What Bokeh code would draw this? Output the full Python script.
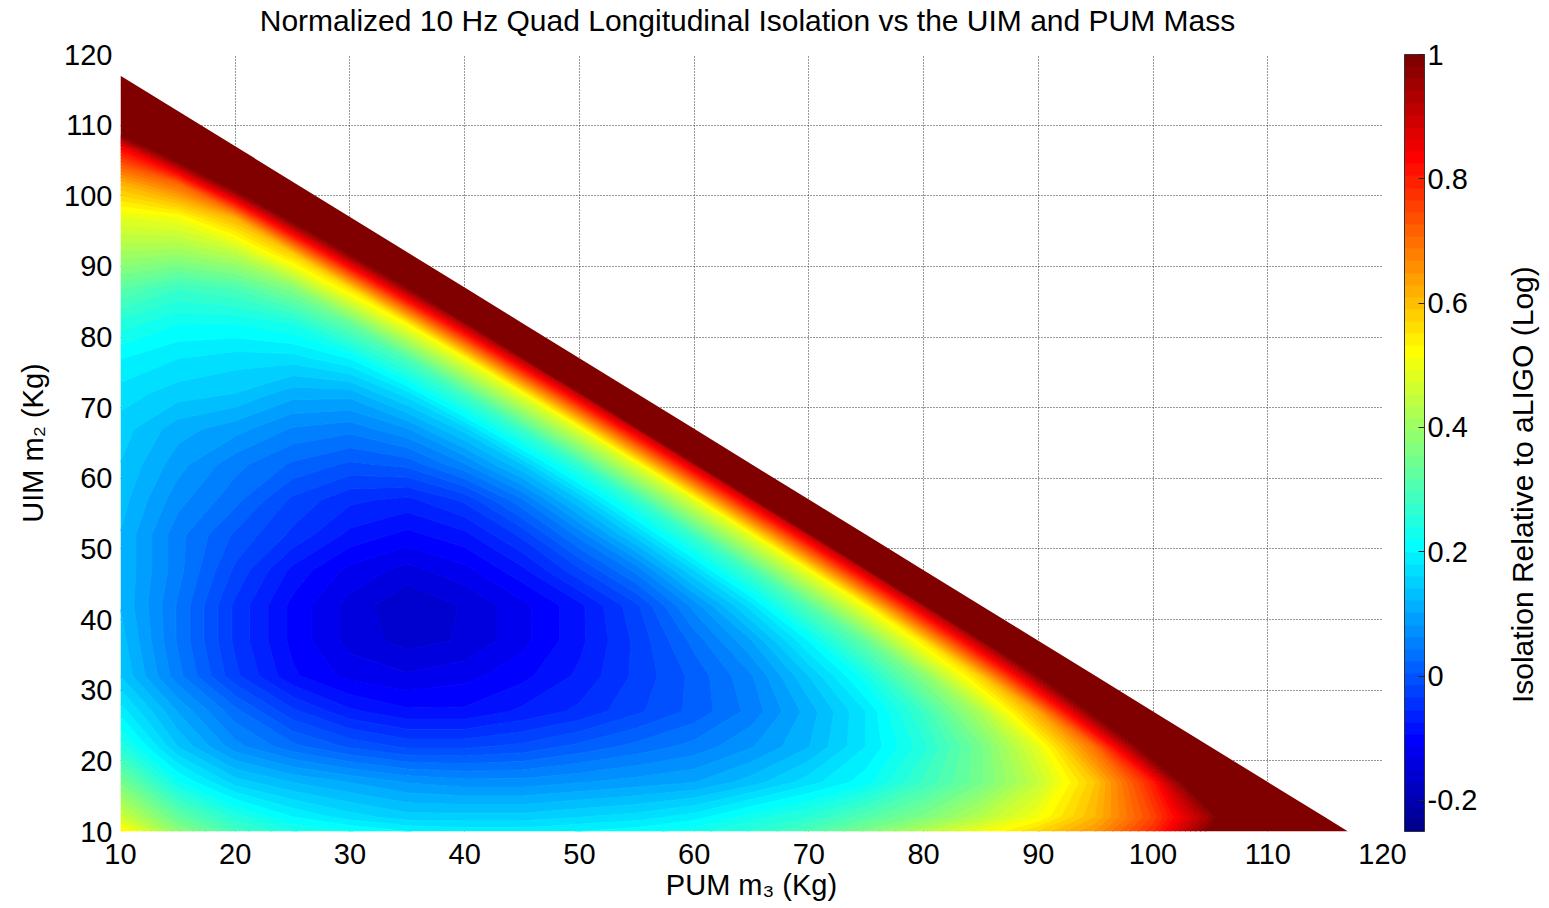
import numpy as np
from bokeh.plotting import figure
from bokeh.layouts import row, column
from bokeh.models import Range1d, FixedTicker, ColorBar, LinearColorMapper, PrintfTickFormatter
from bokeh.core.properties import value
from bokeh.embed import file_html
from bokeh.resources import INLINE

# ---- data: normalised isolation (log) on a grid of PUM mass (x) and UIM mass (y), kg ----
pum = [10, 15, 20, 25, 30, 35, 40, 45, 50, 55, 60, 65, 70, 75, 80, 85, 90, 95, 100, 105, 110, 115, 117]
uim = [10, 12, 17, 22, 27, 32, 37, 42, 47, 52, 57, 62, 67, 72, 77, 82, 87, 92, 97, 102, 107, 112, 117]
mass_limit = 127  # PUM + UIM upper bound (white region beyond)

uim_10 = [0.54, 0.38, 0.29, 0.24, 0.22, 0.20, 0.19, 0.19, 0.20, 0.21, 0.23, 0.26, 0.30, 0.36, 0.43, 0.50, 0.57, 0.65, 0.78, 1.00, 1.23, 1.91, 2.67]
uim_12 = [0.46, 0.33, 0.25, 0.20, 0.17, 0.15, 0.15, 0.15, 0.16, 0.17, 0.19, 0.23, 0.26, 0.31, 0.36, 0.43, 0.51, 0.61, 0.75, 0.95, 1.34, 2.59]
uim_17 = [0.35, 0.22, 0.15, 0.12, 0.10, 0.08, 0.07, 0.07, 0.08, 0.09, 0.10, 0.13, 0.17, 0.21, 0.28, 0.35, 0.45, 0.59, 0.80, 1.19, 2.46]
uim_22 = [0.25, 0.14, 0.07, 0.03, 0.00, -0.02, -0.02, -0.01, 0.01, 0.03, 0.05, 0.08, 0.12, 0.18, 0.25, 0.35, 0.49, 0.70, 1.09, 2.38]
uim_27 = [0.19, 0.10, 0.03, -0.03, -0.07, -0.09, -0.09, -0.07, -0.05, -0.02, 0.01, 0.05, 0.11, 0.18, 0.28, 0.42, 0.63, 1.03, 2.33]
uim_32 = [0.14, 0.05, -0.03, -0.09, -0.12, -0.13, -0.12, -0.10, -0.07, -0.03, 0.01, 0.06, 0.14, 0.23, 0.37, 0.58, 0.98, 2.31]
uim_37 = [0.13, 0.04, -0.04, -0.10, -0.14, -0.16, -0.15, -0.12, -0.08, -0.03, 0.03, 0.10, 0.20, 0.33, 0.55, 0.95, 2.29]
uim_42 = [0.12, 0.04, -0.04, -0.10, -0.14, -0.17, -0.15, -0.12, -0.08, -0.02, 0.07, 0.17, 0.31, 0.52, 0.93, 2.29]
uim_47 = [0.12, 0.05, -0.02, -0.08, -0.12, -0.14, -0.12, -0.08, -0.02, 0.05, 0.16, 0.29, 0.51, 0.92, 2.29]
uim_52 = [0.12, 0.05, 0.00, -0.04, -0.08, -0.10, -0.08, -0.03, 0.05, 0.15, 0.28, 0.50, 0.91, 2.30]
uim_57 = [0.13, 0.07, 0.03, -0.02, -0.05, -0.06, -0.03, 0.04, 0.14, 0.27, 0.49, 0.91, 2.31]
uim_62 = [0.14, 0.09, 0.05, 0.02, 0.00, 0.01, 0.06, 0.14, 0.27, 0.49, 0.91, 2.32]
uim_67 = [0.15, 0.11, 0.09, 0.06, 0.05, 0.08, 0.15, 0.28, 0.49, 0.91, 2.34]
uim_72 = [0.17, 0.15, 0.14, 0.11, 0.11, 0.17, 0.29, 0.50, 0.92, 2.37]
uim_77 = [0.20, 0.18, 0.17, 0.17, 0.20, 0.30, 0.51, 0.94, 2.39]
uim_82 = [0.25, 0.22, 0.22, 0.24, 0.33, 0.53, 0.95, 2.42]
uim_87 = [0.32, 0.28, 0.30, 0.37, 0.56, 0.98, 2.46]
uim_92 = [0.41, 0.40, 0.44, 0.59, 1.01, 2.50]
uim_97 = [0.49, 0.51, 0.62, 1.05, 2.54]
uim_102 = [0.62, 0.72, 1.10, 2.60]
uim_107 = [0.84, 1.18, 2.67]
uim_112 = [1.31, 2.77]
uim_117 = [2.91]

x_ticks = [10, 20, 30, 40, 50, 60, 70, 80, 90, 100, 110, 120]
y_ticks = [10, 20, 30, 40, 50, 60, 70, 80, 90, 100, 110, 120]
cbar_ticks = [-0.2, 0, 0.2, 0.4, 0.6, 0.8, 1]
cmin, cmax = -0.25, 1.0

title_text = "Normalized 10 Hz Quad Longitudinal Isolation vs the UIM and PUM Mass"
cbar_title = "Isolation Relative to aLIGO (Log)"

rows = [uim_10, uim_12, uim_17, uim_22, uim_27, uim_32, uim_37, uim_42, uim_47, uim_52, uim_57, uim_62,
        uim_67, uim_72, uim_77, uim_82, uim_87, uim_92, uim_97, uim_102, uim_107, uim_112, uim_117]
Z = np.full((len(uim), len(pum)), np.nan)
for j, r in enumerate(rows):
    Z[j, :len(r)] = r
X, Y = np.meshgrid(np.array(pum, float), np.array(uim, float))
Z[X + Y > mass_limit + 1e-9] = np.nan

# ---- MATLAB jet(64) colormap ----
m, n = 64, 16
u = np.concatenate([np.arange(1, n + 1) / n, np.ones(n - 1), np.arange(n, 0, -1) / n])
g = 8 + np.arange(1, len(u) + 1)
J = np.zeros((m, 3))
for k in range(len(u)):
    if g[k] + n <= m:
        J[g[k] + n - 1, 0] = u[k]
    if g[k] <= m:
        J[g[k] - 1, 1] = u[k]
    if g[k] - n >= 1:
        J[g[k] - n - 1, 2] = u[k]
jet = ["#%02x%02x%02x" % tuple(int(round(c * 255)) for c in rw) for rw in J]

levels = list(cmin + (cmax - cmin) * np.arange(64) / 64) + [100.0]
fills = list(jet)
line_cols = list(jet) + [jet[-1]]   # each level line painted with the band above it (hides seams)

FONT = "Liberation Sans"
FS = "29px"

LEFT, RIGHT, TOP, BOTTOM = 120, 118, 14, 76
FW, FH = 1262, 777
TITLE_H = 40

p = figure(output_backend="svg", toolbar_location=None, title=None,
           x_range=Range1d(10, 120), y_range=Range1d(10, 120),
           frame_width=FW, frame_height=FH,
           min_border_left=LEFT, min_border_right=RIGHT, min_border_top=TOP, min_border_bottom=BOTTOM)
p.outline_line_color = None

p.contour(X, Y, Z, levels, fill_color=fills, line_color=line_cols, line_width=1.2)

for ax, tk in ((p.xaxis[0], x_ticks), (p.yaxis[0], y_ticks)):
    ax.ticker = FixedTicker(ticks=tk)
    ax.axis_line_color = None
    ax.major_tick_line_color = None
    ax.minor_tick_line_color = None
    ax.major_tick_out = 0
    ax.major_tick_in = 0
    ax.minor_tick_out = 0
    ax.major_label_text_font = FONT
    ax.major_label_text_font_size = FS
    ax.major_label_text_color = "black"
    ax.axis_label_text_font = FONT
    ax.axis_label_text_font_size = FS
    ax.axis_label_text_font_style = "normal"
    ax.axis_label_text_color = "black"
p.xaxis.axis_label = "PUM m\u2083 (Kg)"
p.yaxis.axis_label = "UIM m\u2082 (Kg)"
p.xaxis.major_label_standoff = 12
p.yaxis.major_label_standoff = 8
p.xaxis.axis_label_standoff = 2
p.yaxis.axis_label_standoff = 12
for gr, tk in ((p.xgrid[0], x_ticks), (p.ygrid[0], y_ticks)):
    gr.ticker = FixedTicker(ticks=tk)
    gr.grid_line_color = "#333333"
    gr.grid_line_dash = "1 2"
    gr.grid_line_width = 1

mapper = LinearColorMapper(palette=jet, low=cmin, high=cmax)
cb = ColorBar(color_mapper=mapper, location=(FW + 22, 0), width=20, height=FH,
              padding=0, margin=0, ticker=FixedTicker(ticks=cbar_ticks),
              formatter=PrintfTickFormatter(format="%g"),
              major_label_text_font=FONT, major_label_text_font_size=FS,
              major_label_text_color="black",
              major_tick_in=6, major_tick_out=0, major_tick_line_color="#222222",
              bar_line_color="#333333", background_fill_color=None, border_line_color=None,
              label_standoff=3)
p.add_layout(cb, "center")

PH = TOP + FH + BOTTOM
PW = LEFT + FW + RIGHT
QW = 44

# side panel with the colour-bar title (reads bottom to top)
q = figure(width=QW, height=PH, output_backend="svg", toolbar_location=None, title=None,
           x_range=Range1d(0, 1), y_range=Range1d(0, PH), min_border=0)
q.axis.visible = False
q.grid.visible = False
q.outline_line_color = None
q.text(x=[0.5], y=[PH - 480], text=[cbar_title], angle=np.pi / 2,
       text_align="center", text_baseline="middle", text_font=value(FONT),
       text_font_size="30px", text_color="black")

# title strip
t = figure(width=PW + QW, height=TITLE_H, output_backend="svg", toolbar_location=None, title=None,
           x_range=Range1d(0, PW + QW), y_range=Range1d(0, TITLE_H), min_border=0)
t.axis.visible = False
t.grid.visible = False
t.outline_line_color = None
t.text(x=[747], y=[TITLE_H - 20], text=[title_text], text_align="center", text_baseline="middle",
       text_font=value(FONT), text_font_size="30px", text_color="black")

open("out.html", "w").write(file_html(column(t, row(p, q)), INLINE))
